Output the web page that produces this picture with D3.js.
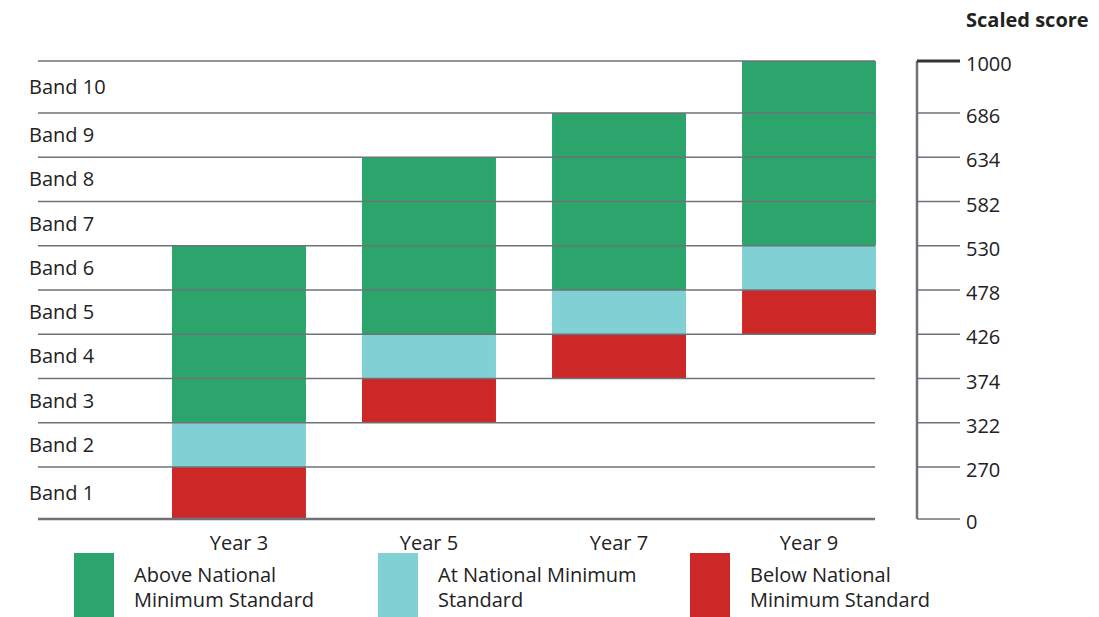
<!DOCTYPE html>
<html>
<head>
<meta charset="utf-8">
<script src="https://cdn.jsdelivr.net/npm/d3@7"></script>
<style>
  body { margin: 0; background: #fff; }
  text { font-family: "Open Sans", "Noto Sans", sans-serif; fill: #222; }
  .title { font-weight: 700; }
</style>
</head>
<body>
<div id="chart"></div>
<script>
  const years = ['Year 3', 'Year 5', 'Year 7', 'Year 9'];
  const bandNames = ['Band 1', 'Band 2', 'Band 3', 'Band 4', 'Band 5',
    'Band 6', 'Band 7', 'Band 8', 'Band 9', 'Band 10'];
  const bandEdges = [0, 270, 322, 374, 426, 478, 530, 582, 634, 686, 1000];

  // score ranges for each year
  const belowLow = [0, 322, 374, 426];
  const atLow = [270, 374, 426, 478];
  const aboveLow = [322, 426, 478, 530];
  const aboveHigh = [530, 634, 686, 1000];

  const legendLabels = [
    ['Above National', 'Minimum Standard'],
    ['At National Minimum', 'Standard'],
    ['Below National', 'Minimum Standard']
  ];
  const colors = ['#2ba56c', '#80d0d4', '#cc2828'];

  const width = 1099, height = 617;

  const svg = d3.select('#chart').append('svg')
    .attr('width', width)
    .attr('height', height);

  const x = d3.scaleBand()
    .domain(years)
    .range([172, 876])
    .paddingInner(0.295)
    .paddingOuter(0);

  // band 1 and band 10 are drawn taller than the rest
  const y = d3.scaleLinear()
    .domain([0, 270, 686, 1000])
    .range([519, 467, 113, 61]);

  // bars
  const segs = [];
  years.forEach((yr, i) => {
    segs.push({ year: yr, lo: aboveLow[i], hi: aboveHigh[i], c: colors[0] });
    segs.push({ year: yr, lo: atLow[i], hi: aboveLow[i], c: colors[1] });
    segs.push({ year: yr, lo: belowLow[i], hi: atLow[i], c: colors[2] });
  });

  svg.append('g').selectAll('rect')
    .data(segs)
    .join('rect')
    .attr('x', d => x(d.year))
    .attr('width', x.bandwidth())
    .attr('y', d => y(d.hi))
    .attr('height', d => y(d.lo) - y(d.hi))
    .attr('fill', d => d.c);

  // grid lines over bars
  svg.append('g').selectAll('line')
    .data(bandEdges)
    .join('line')
    .attr('x1', 38)
    .attr('x2', 875)
    .attr('y1', d => y(d))
    .attr('y2', d => y(d))
    .attr('stroke', '#6e7378')
    .attr('stroke-width', d => d === 0 ? 2.5 : 1.6);

  // band labels
  svg.append('g').selectAll('text')
    .data(bandNames)
    .join('text')
    .attr('x', 29)
    .attr('y', (d, i) => (y(bandEdges[i]) + y(bandEdges[i + 1])) / 2)
    .attr('dy', '0.35em')
    .attr('font-size', 20)
    .text(d => d);

  // year labels
  svg.append('g').selectAll('text')
    .data(years)
    .join('text')
    .attr('x', d => x(d) + x.bandwidth() / 2)
    .attr('y', 550)
    .attr('text-anchor', 'middle')
    .attr('font-size', 20)
    .text(d => d);

  // right axis
  const axis = svg.append('g').attr('transform', 'translate(917,0)');
  axis.append('line')
    .attr('y1', y(1000)).attr('y2', y(0))
    .attr('stroke', '#6e7378').attr('stroke-width', 2.5);
  const ticks = axis.selectAll('g')
    .data(bandEdges)
    .join('g')
    .attr('transform', d => `translate(0,${y(d)})`);
  ticks.append('line')
    .attr('x2', 43)
    .attr('stroke', d => d === 1000 ? '#333' : '#6e7378')
    .attr('stroke-width', d => d === 1000 ? 3 : 1.6);
  ticks.append('text')
    .attr('x', 49)
    .attr('y', 3)
    .attr('dy', '0.35em')
    .attr('font-size', 20)
    .text(d => d);

  svg.append('text')
    .attr('class', 'title')
    .attr('x', 966)
    .attr('y', 27)
    .attr('font-size', 20)
    .text('Scaled score');

  // legend
  const legendX = [74, 378, 690];
  const legend = svg.append('g').selectAll('g')
    .data(legendLabels)
    .join('g')
    .attr('transform', (d, i) => `translate(${legendX[i]},553)`);
  legend.append('rect')
    .attr('width', 40)
    .attr('height', 64)
    .attr('fill', (d, i) => colors[i]);
  legend.append('text')
    .attr('x', 60)
    .attr('y', 29)
    .attr('font-size', 20)
    .selectAll('tspan')
    .data(d => d)
    .join('tspan')
    .attr('x', 60)
    .attr('dy', (d, i) => i === 0 ? 0 : 25)
    .text(d => d);
</script>
</body>
</html>
